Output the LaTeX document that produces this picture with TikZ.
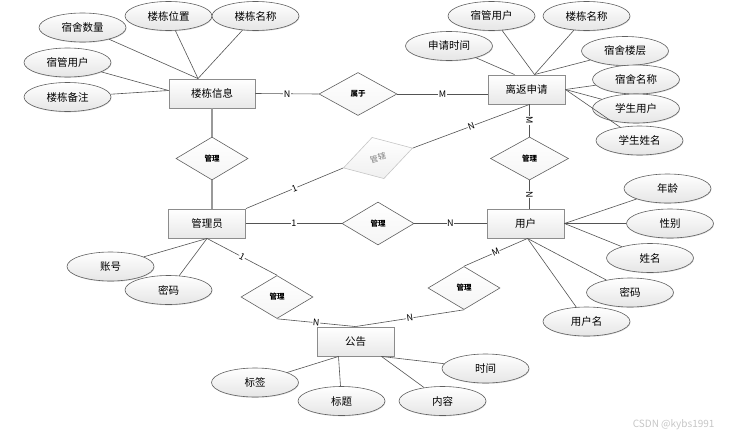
\documentclass[tikz,border=0pt]{standalone}
\usepackage{fontspec}
\setmainfont{Noto Sans CJK SC}
\usepackage{tikz}
\usetikzlibrary{shapes.geometric, shadows}

\begin{document}
\begin{tikzpicture}[x=1pt, y=-1pt]
    \tikzstyle{entity} = [rectangle, minimum width=77pt, minimum height=29pt, inner sep=0pt, draw=gray!90, line width=0.9pt, top color=white, bottom color=gray!18, drop shadow={shadow xshift=0.8pt, shadow yshift=-0.8pt, fill=gray!70, opacity=0.8}, font=\fontsize{10.5}{12}\selectfont]
    \tikzstyle{attr} = [ellipse, minimum width=87pt, minimum height=29pt, inner sep=0pt, draw=gray!75!black, line width=0.6pt, top color=white, bottom color=gray!20, drop shadow={shadow xshift=0.5pt, shadow yshift=-0.8pt, fill=gray!50, opacity=0.6}, font=\fontsize{10.5}{12}\selectfont]
    \tikzstyle{relation} = [diamond, minimum width=72pt, minimum height=43pt, inner sep=0pt, draw=gray!75!black, line width=0.6pt, top color=white, bottom color=gray!8, font=\fontsize{7.5}{9}\selectfont\bfseries]
    \tikzstyle{link} = [draw=gray!65!black, line width=0.6pt]
    \tikzstyle{card} = [fill=white, inner sep=0.5pt, font=\fontsize{9}{10}\selectfont]

    \useasboundingbox (0,0) rectangle (734,437);

    % entities
    \node (lou) [entity, minimum width=86pt] at (212,93.5) {楼栋信息};
    \node (lifan) [entity] at (526.5,89.5) {离返申请};
    \node (admin) [entity] at (207,223.5) {管理员};
    \node (user) [entity] at (525.5,223.5) {用户};
    \node (notice) [entity] at (355.5,341.5) {公告};

    % relations
    \node (belong) [relation, minimum width=78pt] at (358,94) {属于};
    \node (mg1) [relation] at (212,158.5) {管理};
    \node (mg2) [relation, minimum width=78pt] at (529.5,158.5) {管理};
    \node (mg3) [relation] at (378,223.5) {管理};
    \node (mg4) [relation] at (277,297) {管理};
    \node (mg5) [relation] at (464,288) {管理};
    \node (govern) [relation, rotate=16, draw=gray!45, text=gray, bottom color=gray!12, font=\fontsize{8}{9}\selectfont] at (378,158) {管辖};

    % attributes of 楼栋信息
    \node (lsushe) [attr] at (82.5,27.5) {宿舍数量};
    \node (lweizhi) [attr] at (168.5,16) {楼栋位置};
    \node (lmingcheng) [attr] at (255.5,16) {楼栋名称};
    \node (lsuguan) [attr] at (67.5,62.5) {宿管用户};
    \node (lbeizhu) [attr] at (67.5,97) {楼栋备注};

    % attributes of 离返申请
    \node (asuguan) [attr] at (491.5,16) {宿管用户};
    \node (aloudong) [attr] at (586.5,16) {楼栋名称};
    \node (ashijian) [attr] at (449,46) {申请时间};
    \node (alouceng) [attr] at (625,51) {宿舍楼层};
    \node (amingcheng) [attr] at (636,79.5) {宿舍名称};
    \node (axuesheng) [attr] at (636,108.5) {学生用户};
    \node (axingming) [attr] at (639.5,140.5) {学生姓名};

    % attributes of 用户
    \node (unianling) [attr] at (667.5,188.5) {年龄};
    \node (uxingbie) [attr] at (670,223.5) {性别};
    \node (uxingming) [attr] at (650,258) {姓名};
    \node (umima) [attr] at (630,292.5) {密码};
    \node (uname) [attr] at (586.5,321.5) {用户名};

    % attributes of 管理员
    \node (zhanghao) [attr] at (110.5,266.5) {账号};
    \node (mima) [attr] at (168.5,290) {密码};

    % attributes of 公告
    \node (biaoqian) [attr] at (255,382.5) {标签};
    \node (biaoti) [attr] at (341.5,401) {标题};
    \node (shijian) [attr] at (485.5,368.5) {时间};
    \node (neirong) [attr] at (442.5,401) {内容};

    \coordinate (ubot) at ([xshift=2pt]user.south);
    \coordinate (atop) at ([xshift=8pt]lifan.north);
    \coordinate (abot) at (mg2.north |- lifan.south);

    % relationship lines
    \draw [link] (lou.east) -- node[card] {N} (belong.west);
    \draw [link] (belong.east) -- node[card] {M} (belong.east -| lifan.west);
    \draw [link, draw=gray!80, line width=1.1pt] (lou) -- (mg1);
    \draw [link, draw=gray!80, line width=1.1pt] (mg1) -- (mg1.south |- admin.north);
    \draw [link] (admin.north east) -- node[card, sloped] {1} (govern.west);
    \draw [link] (govern.east) -- node[card, sloped] {N} (abot);
    \draw [link] (abot) -- node[card, sloped] {M} (mg2.north);
    \draw [link] (mg2.south) -- node[card, sloped] {N} (mg2.south |- user.north);
    \draw [link] (admin.east) -- node[card] {1} (mg3.west);
    \draw [link] (mg3.east) -- node[card] {N} (user.west);
    \draw [link] (admin.south) -- node[card, sloped] {1} (mg4.north);
    \draw [link] (mg4.south) -- node[card, sloped] {N} (notice.north);
    \draw [link] (ubot) -- node[card, sloped] {M} (mg5.north);
    \draw [link] (mg5.south) -- node[card, sloped] {N} (notice.north);

    % attribute lines
    \draw [link] (lsushe) -- ([xshift=-14pt]lou.north);
    \draw [link] (lweizhi) -- ([xshift=-14pt]lou.north);
    \draw [link] (lmingcheng) -- ([xshift=-14pt]lou.north);
    \draw [link] (lsuguan) -- ([yshift=3pt]lou.west);
    \draw [link] (lbeizhu) -- ([yshift=3pt]lou.west);

    \draw [link] (ashijian) -- ([xshift=-12pt]lifan.north);
    \draw [link] (asuguan) -- (atop);
    \draw [link] (aloudong) -- (atop);
    \draw [link] (alouceng) -- (atop);
    \draw [link] (amingcheng) -- (lifan.east);
    \draw [link] (axuesheng) -- (lifan.east);
    \draw [link] (axingming) -- (lifan.east);

    \draw [link] (unianling) -- (user.east);
    \draw [link] (uxingbie) -- (user.east);
    \draw [link] (uxingming) -- (user.east);
    \draw [link] (umima) -- (ubot);
    \draw [link] (uname) -- (ubot);

    \draw [link] (zhanghao) -- (admin.south);
    \draw [link] (mima) -- (admin.south);

    \draw [link] (biaoqian) -- ([xshift=-17pt]notice.south);
    \draw [link] (biaoti) -- ([xshift=-17pt]notice.south);
    \draw [link] (shijian) -- ([xshift=26pt]notice.south);
    \draw [link] (neirong) -- ([xshift=26pt]notice.south);

    \node (mark) [text=gray!45, font=\fontsize{10}{12}\selectfont, anchor=east] at (718,425) {CSDN @kybs1991};
\end{tikzpicture}
\end{document}
